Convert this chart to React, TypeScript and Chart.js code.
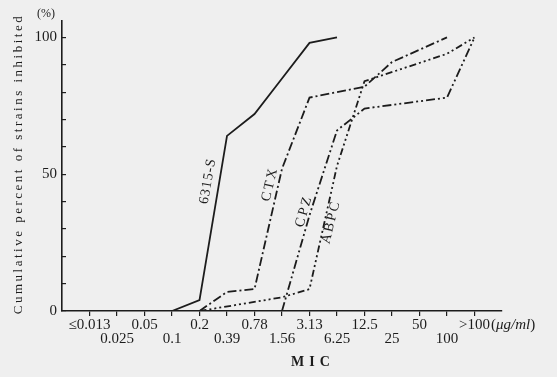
import { useEffect, useRef } from 'react';
import { Chart, registerables } from 'chart.js';

Chart.register(...registerables);

// MIC categories (µg/ml), index 0..14
const micLabels = ['≤0.013', '0.025', '0.05', '0.1', '0.2', '0.39', '0.78', '1.56', '3.13', '6.25', '12.5', '25', '50', '100', '>100'];
const yTicks = [0, 10, 20, 30, 40, 50, 60, 70, 80, 90, 100];
const yLabelled = [0, 50, 100];

// cumulative % of strains inhibited at each MIC (null = no vertex at that MIC)
const v6315S = [null, null, null, 0, 4, 64, 72, 85, 98, 100, null, null, null, null, null];
const vCTX = [null, null, null, null, 0, 7, 8, 52, 78, null, 82, 91, null, 100, null];
const vCPZ = [null, null, null, null, null, null, null, 0, 35, 66, 74, null, null, 78, 100];
const vABPC = [null, null, null, null, 0, null, null, 5, 8, 53, 84, null, null, 94, 100];

const seriesNames = ['6315-S', 'CTX', 'CPZ', 'ABPC'];

const INK = '#1c1c1c';
const SERIF = '"Liberation Serif", "DejaVu Serif", serif';

function pts(vals: (number | null)[]) {
  const out: { x: number; y: number }[] = [];
  vals.forEach((v, i) => {
    if (v !== null) out.push({ x: i, y: v });
  });
  return out;
}

function drawText(ctx: CanvasRenderingContext2D, text: string, x: number, y: number, deg: number, font: string, spacing: number, align: CanvasTextAlign = 'center') {
  ctx.save();
  ctx.translate(x, y);
  ctx.rotate((deg * Math.PI) / 180);
  ctx.font = font;
  (ctx as any).letterSpacing = spacing + 'px';
  ctx.textAlign = align;
  ctx.textBaseline = 'middle';
  ctx.fillStyle = INK;
  ctx.fillText(text, 0, 0);
  ctx.restore();
}

const annotPlugin = {
  id: 'annot',
  beforeDraw(chart: any) {
    const ctx = chart.ctx as CanvasRenderingContext2D;
    ctx.save();
    ctx.fillStyle = '#efefef';
    ctx.fillRect(0, 0, chart.width, chart.height);
    ctx.restore();
  },
  afterDraw(chart: any) {
    const ctx = chart.ctx as CanvasRenderingContext2D;
    const xs = chart.scales.x;
    // y-axis title
    drawText(ctx, 'Cumulative percent of strains inhibited', 19, 164, -90, `13px ${SERIF}`, 2.5);
    drawText(ctx, '(%)', 46, 14, 0, `12px ${SERIF}`, 0);
    // x-axis title
    drawText(ctx, 'MIC', 313, 362, 0, `bold 14px ${SERIF}`, 5);
    // unit after >100
    ctx.save();
    ctx.font = `15px ${SERIF}`;
    const lastX = xs.getPixelForValue(14);
    const w = ctx.measureText(micLabels[14]).width;
    ctx.restore();
    let ux = lastX + w / 2 + 1;
    ctx.save();
    ctx.fillStyle = INK;
    ctx.textBaseline = 'middle';
    ctx.textAlign = 'left';
    ctx.font = `15px ${SERIF}`;
    ctx.fillText('(', ux, 325);
    ux += ctx.measureText('(').width;
    ctx.font = `italic 15px ${SERIF}`;
    ctx.fillText('μg/ml', ux, 325);
    ux += ctx.measureText('μg/ml').width;
    ctx.font = `15px ${SERIF}`;
    ctx.fillText(')', ux, 325);
    ctx.restore();
    // series labels
    const f = `14px ${SERIF}`;
    drawText(ctx, seriesNames[0], 208, 181, -80, f, 1);
    drawText(ctx, seriesNames[1], 270, 184, -77, f, 2.5);
    drawText(ctx, seriesNames[2], 304, 211, -74, f, 2.5);
    drawText(ctx, seriesNames[3], 331, 222, -76, f, 2);
  },
};

export default function App() {
  const ref = useRef<HTMLCanvasElement>(null);
  useEffect(() => {
    if (!ref.current) return;
    const mk = (label: string, vals: (number | null)[], dash: number[]) => ({
      label,
      data: pts(vals),
      borderColor: INK,
      borderWidth: 1.8,
      borderDash: dash,
      pointRadius: 0,
      tension: 0,
      fill: false,
    });
    const chart = new Chart(ref.current, {
      type: 'line',
      data: {
        datasets: [
          mk(seriesNames[0], v6315S, []),
          mk(seriesNames[1], vCTX, [9, 3, 2, 3]),
          mk(seriesNames[2], vCPZ, [9, 3, 2, 3, 2, 3]),
          mk(seriesNames[3], vABPC, [7, 3, 2, 3, 2, 3, 2, 3]),
        ],
      },
      options: {
        animation: false,
        responsive: false,
        events: [],
        layout: { padding: { left: 0, right: 55, top: 21, bottom: 0 } },
        plugins: { legend: { display: false }, tooltip: { enabled: false } },
        scales: {
          x: {
            type: 'linear',
            min: -1,
            max: 15,
            afterBuildTicks: (s: any) => {
              s.ticks = micLabels.map((_, i) => ({ value: i }));
            },
            afterFit: (s: any) => {
              s.height = 66;
            },
            ticks: {
              autoSkip: false,
              maxRotation: 0,
              minRotation: 0,
              padding: 2,
              color: INK,
              font: { family: SERIF, size: 15, lineHeight: 14 / 15 },
              callback: (v: any) => {
                const i = Math.round(Number(v));
                const t = micLabels[i] ?? '';
                return i % 2 === 0 ? [t, ''] : ['', t];
              },
            },
            grid: { drawOnChartArea: false, drawTicks: true, tickLength: 5, color: INK, lineWidth: 1.2 },
            border: { display: true, color: INK, width: 1.6 },
          },
          y: {
            type: 'linear',
            min: 0,
            max: 106,
            afterBuildTicks: (s: any) => {
              s.ticks = yTicks.map((v) => ({ value: v }));
            },
            afterFit: (s: any) => {
              s.width = 62;
            },
            ticks: {
              padding: 9,
              color: INK,
              font: { family: SERIF, size: 15 },
              callback: (v: any) => (yLabelled.includes(Number(v)) ? String(v) : ''),
            },
            grid: { drawOnChartArea: false, drawTicks: true, tickLength: -4, color: INK, lineWidth: 1.2 },
            border: { display: true, color: INK, width: 1.6 },
          },
        },
      },
      plugins: [annotPlugin],
    } as any);
    return () => chart.destroy();
  }, []);
  return (
    <div style={{ position: 'fixed', left: 0, top: 0, width: 557, height: 377 }}>
      <canvas ref={ref} width={557} height={377} style={{ width: 557, height: 377, display: 'block' }} />
    </div>
  );
}
